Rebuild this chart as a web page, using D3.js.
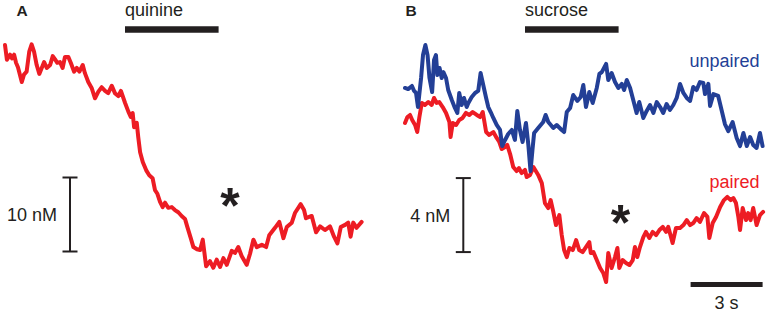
<!DOCTYPE html>
<html>
<head>
<meta charset="utf-8">
<script src="https://cdn.jsdelivr.net/npm/d3@7"></script>
<style>
  body { margin: 0; background: #fff; }
  text { font-family: "Liberation Sans", Arial, sans-serif; }
</style>
</head>
<body>
<div id="chart"></div>
<script>
// panel A: quinine trace (time in s, dopamine in nM)
var quinineT = [0,0.08,0.21,0.29,0.38,0.46,0.54,0.70,0.79,0.90,
  1.01,1.11,1.21,1.32,1.43,1.53,1.63,1.74,1.88,1.99,
  2.08,2.18,2.29,2.40,2.50,2.64,2.74,2.88,2.99,3.10,
  3.24,3.33,3.47,3.61,3.75,3.89,4.03,4.17,4.30,4.45,
  4.58,4.72,4.83,5.00,5.14,5.24,5.32,5.38,5.49,5.55,
  5.63,5.74,5.88,6.01,6.15,6.25,6.35,6.46,6.57,6.67,
  6.80,6.95,7.08,7.22,7.36,7.50,7.60,7.74,7.85,8.00,
  8.13,8.24,8.38,8.54,8.68,8.82,8.96,9.10,9.24,9.45,
  9.58,9.72,9.86,10.07,10.21,10.35,10.49,10.70,10.88,11.01,
  11.25,11.43,11.60,11.74,11.95,12.08,12.32,12.46,12.54,12.78,
  12.96,13.13,13.33,13.54,13.71,13.85,13.99,14.17,14.30,14.40,
  14.51,14.65,14.86];
var quinineNM = [30.4,28.4,29.1,28.6,29.1,28.0,27.4,25.4,26.4,26.8,
  29.5,30.5,29.5,27.7,26.5,27.3,28.1,27.3,27.7,28.9,
  28.5,28.0,28.1,27.3,28.8,28.8,28.0,26.8,27.3,26.8,
  27.7,26.6,25.4,24.6,23.2,24.1,24.7,24.2,23.9,24.9,
  23.9,23.5,24.2,22.6,21.4,20.7,21.2,19.3,19.9,18.0,
  15.9,14.6,13.5,12.8,12.4,10.8,10.3,9.2,8.5,9.1,
  8.4,8.5,8.1,7.8,7.3,6.9,5.8,4.3,3.1,2.8,
  2.7,4.1,0.5,1.2,0.3,1.4,0.4,1.6,0.7,2.6,
  2.3,3.1,1.9,0.7,2.2,4.1,3.1,3.4,3.1,4.7,
  5.7,6.5,4.3,5.8,6.4,7.7,8.9,8.1,7.0,7.3,
  5.1,5.9,5.4,5.9,4.5,3.6,5.8,6.1,6.4,4.5,
  6.4,5.7,6.5];

// panel B: sucrose, unpaired (blue) and paired (red)
var unpairedT = [0,0.13,0.29,0.38,0.46,0.54,0.67,0.75,0.85,0.94,
  1.02,1.13,1.21,1.29,1.35,1.44,1.53,1.60,1.71,1.80,
  1.95,2.08,2.18,2.26,2.36,2.46,2.57,2.64,2.78,2.92,
  3.05,3.15,3.26,3.38,3.47,3.57,3.68,3.82,3.96,4.05,
  4.17,4.30,4.45,4.58,4.68,4.79,4.90,5.04,5.14,5.23,
  5.31,5.38,5.55,5.76,5.86,5.97,6.18,6.32,6.53,6.63,
  6.74,6.88,7.01,7.18,7.32,7.43,7.54,7.68,7.82,7.99,
  8.10,8.20,8.38,8.47,8.61,8.75,8.89,9.03,9.13,9.24,
  9.38,9.51,9.65,9.76,9.93,10.07,10.21,10.35,10.49,10.63,
  10.76,10.90,11.04,11.18,11.32,11.46,11.60,11.74,11.88,12.01,
  12.15,12.29,12.43,12.50,12.64,12.71,12.85,13.05,13.20,13.33,
  13.47,13.65,13.82,13.96,14.10,14.24,14.38,14.51,14.65,14.79,14.90];
var unpairedNM = [10.92,10.86,11.03,10.76,10.65,9.89,11.46,12.70,13.24,12.70,
  11.46,10.70,12.43,12.70,11.62,12.0,11.46,11.78,11.46,10.81,
  10.27,9.84,9.57,10.65,10.0,10.38,9.89,10.11,10.43,10.65,
  10.76,11.73,11.08,10.38,9.89,9.62,9.30,8.92,8.65,7.78,
  8.11,8.43,8.65,8.11,9.68,8.65,8.0,9.03,7.84,6.43,
  7.57,8.49,8.76,9.08,9.46,9.08,8.76,8.92,8.65,8.54,
  9.62,9.84,10.54,10.22,10.43,11.08,9.89,10.70,10.11,10.92,
  11.68,11.78,12.22,11.35,11.73,11.24,10.92,11.14,10.81,11.35,
  10.92,10.27,9.57,10.16,9.30,9.68,10.0,9.57,10.16,9.89,
  9.57,10.05,9.73,10.0,10.38,11.14,10.65,10.38,10.22,10.97,
  10.81,11.24,11.19,10.59,11.14,9.95,10.59,10.49,9.68,8.97,
  8.59,9.08,8.22,7.78,8.49,7.78,8.27,7.84,7.68,8.49,7.78];

var pairedT = [0,0.10,0.21,0.30,0.42,0.51,0.60,0.70,0.83,0.97,
  1.11,1.21,1.32,1.43,1.57,1.71,1.85,1.90,1.99,2.13,
  2.26,2.40,2.54,2.68,2.82,2.99,3.13,3.24,3.38,3.51,
  3.68,3.82,3.93,4.03,4.17,4.26,4.38,4.51,4.65,4.75,
  4.86,5.00,5.07,5.21,5.35,5.55,5.70,5.83,5.97,6.07,
  6.18,6.29,6.43,6.53,6.63,6.74,6.85,6.99,7.13,7.26,
  7.40,7.54,7.68,7.74,7.85,7.99,8.13,8.26,8.38,8.47,
  8.61,8.75,8.85,8.93,9.07,9.21,9.35,9.49,9.58,9.68,
  9.79,9.93,10.04,10.18,10.32,10.46,10.60,10.74,10.88,10.97,
  11.15,11.29,11.46,11.60,11.74,11.88,12.01,12.15,12.29,12.46,
  12.60,12.68,12.82,12.96,13.13,13.29,13.43,13.57,13.68,13.79,
  13.89,13.96,14.07,14.21,14.30,14.40,14.51,14.65,14.79,14.92];
var pairedNM = [9.03,9.35,9.46,9.19,8.92,8.54,9.35,10.11,10.0,10.16,
  10.0,10.38,10.11,10.16,9.89,9.57,9.08,8.27,9.03,8.92,
  9.19,9.30,9.57,9.46,9.62,9.46,9.35,9.62,8.54,8.38,
  8.54,8.22,8.0,7.62,7.73,7.84,7.35,6.65,6.43,6.59,
  6.32,6.49,6.11,6.22,6.65,6.22,5.78,4.70,4.43,4.86,
  4.22,3.51,4.05,2.97,2.16,1.78,2.27,2.16,2.70,2.16,
  2.05,2.32,2.59,2.0,2.05,1.62,1.19,0.92,0.43,2.0,
  1.19,1.78,2.27,1.19,1.62,1.46,1.35,1.62,2.32,1.78,
  2.32,2.86,3.14,2.81,3.14,2.97,3.24,3.41,3.14,3.41,
  2.54,3.35,3.35,3.51,3.78,3.51,3.62,3.89,3.68,4.16,
  3.95,2.81,3.62,3.95,4.49,4.86,5.03,4.86,4.97,4.70,
  3.95,3.24,4.43,3.78,4.16,3.78,4.43,3.51,4.05,4.22];

var stimulus = [5.0, 8.9];      // s, taste delivery
var scaleBarA = [2.5, 12.5];    // 10 nM
var scaleBarB = [2.05, 6.05];   // 4 nM
var timeBar = [11.9, 14.9];     // 3 s

var red = "#ed1c24", blue = "#233f96", ink = "#231f20";

var svg = d3.select("#chart").append("svg")
    .attr("width", 768)
    .attr("height", 313);

var xA = d3.scaleLinear().domain([0, 15]).range([5, 365]);
var yA = d3.scaleLinear().domain([0, 30]).range([270, 48]);
var xB = d3.scaleLinear().domain([0, 15]).range([405, 765]);
var yB = d3.scaleLinear().domain([0, 4]).range([290, 216]);

function trace(g, t, v, x, y, color) {
  var line = d3.line()
      .x(function(d) { return x(d[0]); })
      .y(function(d) { return y(d[1]); });
  g.append("path")
      .datum(d3.zip(t, v))
      .attr("d", line)
      .attr("fill", "none")
      .attr("stroke", color)
      .attr("stroke-width", 4)
      .attr("stroke-linejoin", "round")
      .attr("stroke-linecap", "round");
}

function vbar(g, xpos, range, y, label) {
  g.append("line")
      .attr("x1", xpos).attr("x2", xpos)
      .attr("y1", y(range[0])).attr("y2", y(range[1]))
      .attr("stroke", ink).attr("stroke-width", 2);
  range.forEach(function(r) {
    g.append("line")
        .attr("x1", xpos - 7.5).attr("x2", xpos + 7.5)
        .attr("y1", y(r)).attr("y2", y(r))
        .attr("stroke", ink).attr("stroke-width", 2);
  });
  g.append("text")
      .attr("x", xpos - 13)
      .attr("y", (y(range[0]) + y(range[1])) / 2 + 6.5)
      .attr("text-anchor", "end")
      .attr("font-size", 18)
      .attr("fill", ink)
      .text(label);
}

function stimBar(g, x, label) {
  g.append("line")
      .attr("x1", x(stimulus[0])).attr("x2", x(stimulus[1]))
      .attr("y1", 29.5).attr("y2", 29.5)
      .attr("stroke", ink).attr("stroke-width", 6.5);
  g.append("text")
      .attr("x", x(stimulus[0]))
      .attr("y", 16)
      .attr("font-size", 18)
      .attr("fill", ink)
      .text(label);
}

// panel A
var gA = svg.append("g");
gA.append("text").attr("x", 16.5).attr("y", 15.5)
    .attr("font-size", 15.5).attr("font-weight", "bold").attr("fill", ink).text("A");
stimBar(gA, xA, "quinine");
trace(gA, quinineT, quinineNM, xA, yA, red);
vbar(gA, 70, scaleBarA, yA, "10 nM");
gA.append("text").attr("x", 230).attr("y", 223)
    .attr("text-anchor", "middle").attr("font-size", 50)
    .attr("font-weight", "bold").attr("fill", ink).text("*");

// panel B
var gB = svg.append("g");
gB.append("text").attr("x", 405.5).attr("y", 15.5)
    .attr("font-size", 15.5).attr("font-weight", "bold").attr("fill", ink).text("B");
stimBar(gB, xB, "sucrose");
trace(gB, pairedT, pairedNM, xB, yB, red);
trace(gB, unpairedT, unpairedNM, xB, yB, blue);
vbar(gB, 463.3, scaleBarB, yB, "4 nM");
gB.append("text").attr("x", 620.5).attr("y", 240)
    .attr("text-anchor", "middle").attr("font-size", 50)
    .attr("font-weight", "bold").attr("fill", ink).text("*");

gB.append("text").attr("x", 759.5).attr("y", 66.5)
    .attr("text-anchor", "end").attr("font-size", 18).attr("fill", blue).text("unpaired");
gB.append("text").attr("x", 759.5).attr("y", 188)
    .attr("text-anchor", "end").attr("font-size", 18).attr("fill", red).text("paired");

gB.append("line")
    .attr("x1", xB(timeBar[0])).attr("x2", xB(timeBar[1]))
    .attr("y1", 284.5).attr("y2", 284.5)
    .attr("stroke", ink).attr("stroke-width", 5);
gB.append("text")
    .attr("x", xB((timeBar[0] + timeBar[1]) / 2))
    .attr("y", 309)
    .attr("text-anchor", "middle")
    .attr("font-size", 18)
    .attr("fill", ink)
    .text("3 s");
</script>
</body>
</html>
